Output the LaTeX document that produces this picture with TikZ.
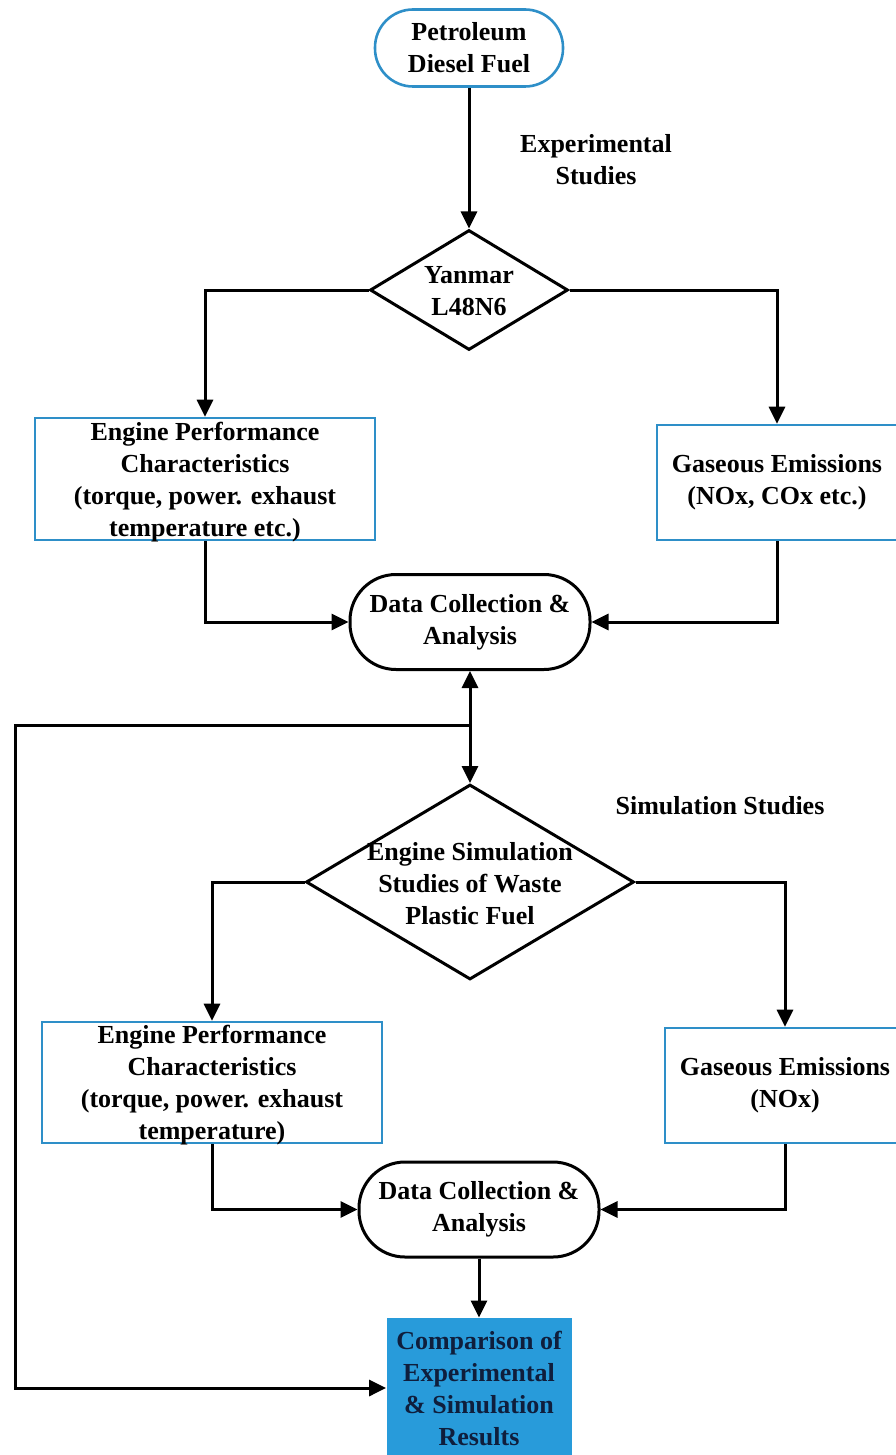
\documentclass[tikz,border=0pt]{standalone}
\usepackage{fontspec}
\setmainfont{Liberation Serif}
\usetikzlibrary{shapes.geometric,arrows.meta}

\definecolor{boxblue}{RGB}{46,143,200}
\definecolor{fillblue}{RGB}{40,155,218}
\definecolor{navy}{RGB}{15,30,60}

\tikzset{
	txt/.style={font=\bfseries\fontsize{13}{16}\selectfont, align=center, inner sep=0pt},
	terminal/.style={txt, draw=boxblue, line width=1.3pt, rounded corners=19pt, minimum width=94pt, minimum height=38.5pt},
	datanode/.style={txt, draw, line width=1.5pt, rounded corners=23pt, minimum width=120pt, minimum height=47.5pt},
	bluebox/.style={txt, draw=boxblue, line width=1.3pt},
	decision/.style={draw, diamond, line width=1.5pt, inner sep=0pt},
	link/.style={line width=1.5pt, -{Triangle[length=8.5pt,width=8pt]}},
	twoway/.style={line width=1.5pt, {Triangle[length=8.5pt,width=8pt]}-{Triangle[length=8.5pt,width=8pt]}},
}

\begin{document}
\begin{tikzpicture}[x=0.5pt,y=-0.5pt]
	
	\useasboundingbox (0,0) rectangle (895,1455);
	
	% experimental part
	\node[terminal] (fuel) at (469,48) {Petroleum\\Diesel Fuel};
	\node[txt] (expst) at (596,160) {Experimental\\Studies};
	\node[decision, minimum width=99pt, minimum height=60pt] (yanmar) at (469,290) {};
	\node[txt] (yanmartxt) at (469,291) {Yanmar\\L48N6};
	\node[bluebox, minimum width=170pt, minimum height=61pt] (perf1) at (205,479) {};
	\node[txt] (perf1txt) at (205,482) {Engine Performance\\Characteristics\\(torque, power. exhaust\\temperature etc.)};
	\node[bluebox, minimum width=120pt, minimum height=57.5pt] (gas1) at (777,482.5) {Gaseous Emissions\\(NOx, COx etc.)};
	\node[datanode] (data1) at (470,622) {Data Collection \&\\Analysis};
	
	% simulation part
	\node[txt] (simst) at (720,806) {Simulation Studies};
	\node[decision, minimum width=164pt, minimum height=97.5pt] (sim) at (470,882) {};
	\node[txt] (simtxt) at (470,883.5) {Engine Simulation\\Studies of Waste\\Plastic Fuel};
	\node[bluebox, minimum width=170pt, minimum height=60.5pt] (perf2) at (212,1082.5) {};
	\node[txt] (perf2txt) at (212,1085.5) {Engine Performance\\Characteristics\\(torque, power. exhaust\\temperature)};
	\node[bluebox, minimum width=120pt, minimum height=57.5pt] (gas2) at (785,1085.5) {Gaseous Emissions\\(NOx)};
	\node[datanode] (data2) at (479,1209.5) {Data Collection \&\\Analysis};
	\node[txt, fill=fillblue, text=navy, minimum width=92.5pt, minimum height=70pt] (comp) at (479,1388) {Comparison of\\Experimental\\\& Simulation\\Results};
	
	\coordinate (branch) at (470,725);
	\coordinate (corner) at (15,725);
	
	\draw[link] (fuel) -- (yanmar);
	\draw[link] (yanmar.west) -| (perf1.north);
	\draw[link] (yanmar.east) -| (gas1.north);
	\draw[link] (perf1.south) |- (data1.west);
	\draw[link] (gas1.south) |- (data1.east);
	\draw[twoway] (data1.south) -- (sim.north);
	\draw[link] (branch) -- (corner) |- (comp.west);
	
	\draw[link] (sim.west) -| (perf2.north);
	\draw[link] (sim.east) -| (gas2.north);
	\draw[link] (perf2.south) |- (data2.west);
	\draw[link] (gas2.south) |- (data2.east);
	\draw[link] (data2) -- (comp);
	
\end{tikzpicture}
\end{document}
